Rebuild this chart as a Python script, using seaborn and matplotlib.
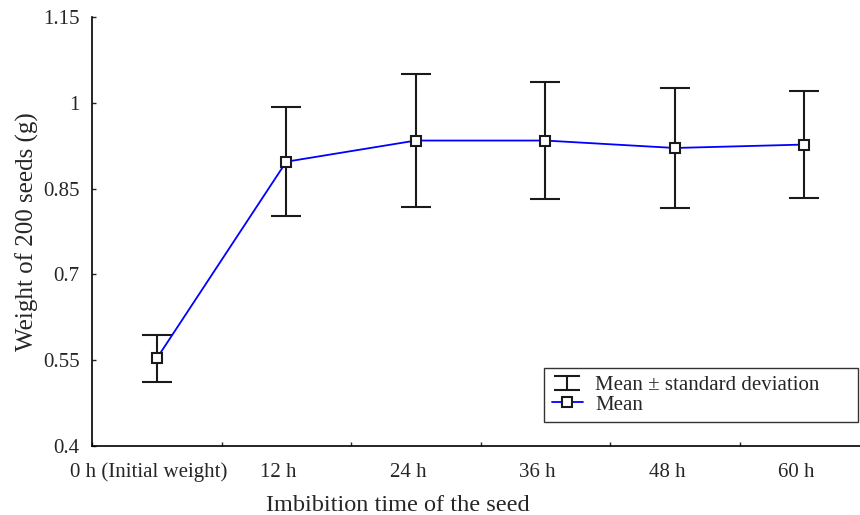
import numpy as np
import matplotlib
matplotlib.use("Agg")
import matplotlib.pyplot as plt
import seaborn as sns
from matplotlib.lines import Line2D
from matplotlib.path import Path

# imbibition time categories and measured weights (g, 200 seeds)
labels = ["0 h (Initial weight)", "12 h", "24 h", "36 h", "48 h", "60 h"]
mean_weight = [0.553, 0.897, 0.934, 0.934, 0.921, 0.927]
sd_weight = [0.041, 0.095, 0.116, 0.102, 0.105, 0.094]

sns.set_style("ticks")
plt.rcParams['font.family'] = ['Liberation Serif', 'DejaVu Serif']

fig = plt.figure(figsize=(8.6, 5.15), dpi=100)
ax = fig.add_axes([0.107, 0.134, 0.893, 0.833])

pos = np.arange(len(labels)) + 0.5

ax.errorbar(pos, mean_weight, yerr=sd_weight, fmt='none', ecolor='#1a1a1a',
            elinewidth=1.5, capsize=11, capthick=1.5, zorder=2)
sns.lineplot(x=pos, y=mean_weight, ax=ax, color='#0000ff', linewidth=1.3,
             marker='s', markersize=6.5, markerfacecolor='white',
             markeredgecolor='#1a1a1a', markeredgewidth=1.5, zorder=3)

ax.set_xlim(0, 5.93)
ax.set_ylim(0.4, 1.15)
ax.set_yticks([0.4, 0.55, 0.7, 0.85, 1.0, 1.15])
ax.set_yticklabels(["0.4", "0.55", "0.7", "0.85", "1", "1.15"])

# major ticks at category boundaries, labels slightly left of the centres
ax.set_xticks(np.arange(0, 6))
ax.set_xticklabels([])
ax.set_xticks(pos - 0.06, minor=True)
ax.set_xticklabels(labels, minor=True)
ax.tick_params(axis='x', which='minor', length=0, labelsize=15, pad=12)
ax.tick_params(axis='x', which='major', direction='in', length=3, width=1)
ax.tick_params(axis='y', direction='in', length=3, width=1, labelsize=15, pad=9)

for side in ['top', 'right']:
    ax.spines[side].set_visible(False)
for side in ['left', 'bottom']:
    ax.spines[side].set_linewidth(1.2)
    ax.spines[side].set_color('black')

ax.set_xlabel("Imbibition time of the seed", fontsize=17.5)
ax.xaxis.set_label_coords(0.398, -0.114)
ax.set_ylabel("Weight of 200 seeds (g)", fontsize=18, labelpad=2.5)

# I-beam symbol for the legend entry of the error bars
ibeam = Path([(-1, 0.5), (1, 0.5), (0, 0.5), (0, -0.5), (-1, -0.5), (1, -0.5)],
             [Path.MOVETO, Path.LINETO, Path.MOVETO, Path.LINETO,
              Path.MOVETO, Path.LINETO])
eb_handle = Line2D([], [], linestyle='none', marker=ibeam, markersize=19,
                   markerfacecolor='none', markeredgecolor='#1a1a1a',
                   markeredgewidth=1.5)
mean_handle = Line2D([], [], color='#0000ff', linewidth=1.3, marker='s',
                     markersize=6.5, markerfacecolor='white',
                     markeredgecolor='#1a1a1a', markeredgewidth=1.5)
leg = ax.legend([eb_handle, mean_handle],
                ["Mean \u00b1 standard deviation      ", "Mean"],
                loc='lower right', bbox_to_anchor=(0.998, 0.056),
                fontsize=15, frameon=True, fancybox=False,
                borderpad=0.35, labelspacing=0.0, handlelength=1.5,
                handletextpad=0.6, borderaxespad=0)
leg.get_frame().set_edgecolor('black')
leg.get_frame().set_linewidth(1.0)

fig.savefig("out.png", dpi=100)
